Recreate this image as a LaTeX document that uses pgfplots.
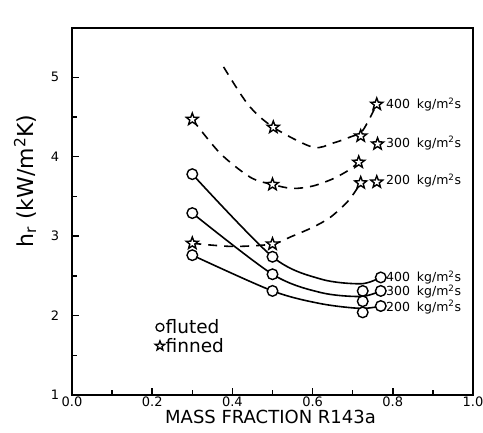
\documentclass[border=0pt]{standalone}
\usepackage{fontspec}
\setmainfont{DejaVu Sans}
\usepackage{pgfplots}
\pgfplotsset{compat=1.18}

% hollow five-point star
\pgfdeclareplotmark{ostar}{%
  \pgfpathmoveto{\pgfpointpolar{90}{\pgfplotmarksize}}%
  \pgfpathlineto{\pgfpointpolar{126}{0.42\pgfplotmarksize}}%
  \pgfpathlineto{\pgfpointpolar{162}{\pgfplotmarksize}}%
  \pgfpathlineto{\pgfpointpolar{198}{0.42\pgfplotmarksize}}%
  \pgfpathlineto{\pgfpointpolar{234}{\pgfplotmarksize}}%
  \pgfpathlineto{\pgfpointpolar{270}{0.42\pgfplotmarksize}}%
  \pgfpathlineto{\pgfpointpolar{306}{\pgfplotmarksize}}%
  \pgfpathlineto{\pgfpointpolar{342}{0.42\pgfplotmarksize}}%
  \pgfpathlineto{\pgfpointpolar{18}{\pgfplotmarksize}}%
  \pgfpathlineto{\pgfpointpolar{54}{0.42\pgfplotmarksize}}%
  \pgfpathclose
  \pgfusepathqfillstroke
}

\begin{document}
\begin{tikzpicture}
\begin{axis}[
    scale only axis,
    width=401pt, height=367pt,
    xmin=0, xmax=1, ymin=1, ymax=5.62,
    axis line style={line width=1.6pt},
    xtick={0,0.2,0.4,0.6,0.8,1},
    xticklabels={0.0,0.2,0.4,0.6,0.8,1.0},
    minor xtick={0.1,0.3,0.5,0.7,0.9},
    ytick={1,2,3,4,5},
    yticklabels={1,2,3,4,5},
    minor ytick={1.5,2.5,3.5,4.5},
    tick pos=left,
    tick align=inside,
    major tick length=7pt, minor tick length=5pt,
    tick style={line width=1.4pt, black},
    xticklabel style={font=\fontsize{13}{14}\selectfont, anchor=base, yshift=-11.5pt, inner sep=0pt},
    yticklabel style={font=\fontsize{13}{14}\selectfont, anchor=center, xshift=-17pt, inner sep=0pt},
    xlabel={MASS FRACTION R143a},
    xlabel style={at={(axis description cs:0.495,0)}, anchor=base, yshift=-28.5pt, inner sep=0pt,
        font=\fontsize{18}{20}\selectfont},
    ylabel={h\textsubscript{r} (kW/m\textsuperscript{2}K)},
    ylabel style={at={(axis description cs:-0.117,0.583)}, anchor=center, inner sep=0pt,
        font=\fontsize{22}{24}\selectfont},
    legend style={at={(axis cs:0.207,1.965)}, anchor=north west, draw=none, fill=none,
        font=\fontsize{18.5}{20}\selectfont, inner sep=0pt, row sep=1pt,
        nodes={inner sep=1pt}},
    legend cell align=left,
    legend image code/.code={\draw[#1] plot coordinates {(0pt,0pt)};},
    /tikz/every even column/.append style={column sep=5pt},
]
% legend entries
\addlegendimage{only marks, mark=*, mark size=4pt, mark options={fill=white, draw=black, line width=1.3pt}}
\addlegendentry{fluted}
\addlegendimage{only marks, mark=ostar, mark size=5pt, mark options={fill=white, draw=black, line width=1.3pt}}
\addlegendentry{finned}

% fluted tubes (solid)
\addplot[black, line width=1.6pt, smooth, forget plot] coordinates {
    (0.30,3.78) (0.50,2.74) (0.62,2.46) (0.72,2.40) (0.765,2.47)};
\addplot[black, line width=1.6pt, smooth, forget plot] coordinates {
    (0.30,3.29) (0.50,2.52) (0.62,2.29) (0.72,2.24) (0.77,2.31)};
\addplot[black, line width=1.6pt, smooth, forget plot] coordinates {
    (0.30,2.76) (0.50,2.31) (0.62,2.15) (0.72,2.09) (0.77,2.12)};

% finned tubes (dashed)
\addplot[black, line width=1.6pt, smooth, dash pattern=on 9pt off 7pt, forget plot] coordinates {
    (0.378,5.13) (0.44,4.65) (0.502,4.37) (0.60,4.12) (0.65,4.17) (0.695,4.25) (0.725,4.33) (0.76,4.66)};
\addplot[black, line width=1.6pt, smooth, dash pattern=on 9pt off 7pt, forget plot] coordinates {
    (0.30,4.47) (0.37,4.04) (0.445,3.74) (0.50,3.65) (0.55,3.60) (0.60,3.63) (0.65,3.72) (0.69,3.83) (0.715,3.93)};
\addplot[black, line width=1.6pt, smooth, dash pattern=on 9pt off 7pt, forget plot] coordinates {
    (0.30,2.91) (0.40,2.87) (0.50,2.90) (0.545,2.99) (0.60,3.11) (0.645,3.24) (0.69,3.45) (0.72,3.67)};

% fluted data points
\addplot[only marks, mark=*, mark size=5.3pt, mark options={fill=white, draw=black, line width=1.4pt}, forget plot] coordinates {
    (0.30,3.78) (0.30,3.29) (0.30,2.76)
    (0.50,2.74) (0.50,2.52) (0.50,2.31)
    (0.725,2.31) (0.725,2.18) (0.725,2.04)
    (0.77,2.48) (0.77,2.31) (0.77,2.12)};

% finned data points
\addplot[only marks, mark=ostar, mark size=6.3pt, mark options={fill=white, draw=black, line width=1.4pt}, forget plot] coordinates {
    (0.30,4.47) (0.30,2.91)
    (0.502,4.37) (0.50,3.65) (0.50,2.90)
    (0.72,4.26) (0.715,3.93) (0.72,3.67)
    (0.76,4.66) (0.762,4.16) (0.76,3.68)};

% mass flux labels
\begin{scope}[every node/.style={anchor=west, font=\fontsize{12.5}{14}\selectfont, inner sep=0pt}]
\node at (axis cs:0.783,4.66) {400\hspace{0.55em}kg/m\textsuperscript{2}s};
\node at (axis cs:0.783,4.17) {300\hspace{0.55em}kg/m\textsuperscript{2}s};
\node at (axis cs:0.783,3.70) {200\hspace{0.55em}kg/m\textsuperscript{2}s};
\node at (axis cs:0.783,2.475) {400\hspace{0.55em}kg/m\textsuperscript{2}s};
\node at (axis cs:0.783,2.30) {300\hspace{0.55em}kg/m\textsuperscript{2}s};
\node at (axis cs:0.783,2.105) {200\hspace{0.55em}kg/m\textsuperscript{2}s};
\end{scope}
\end{axis}
\pgfresetboundingbox
\path (-72pt,-38pt) rectangle (411pt,395pt);
\end{tikzpicture}
\end{document}
